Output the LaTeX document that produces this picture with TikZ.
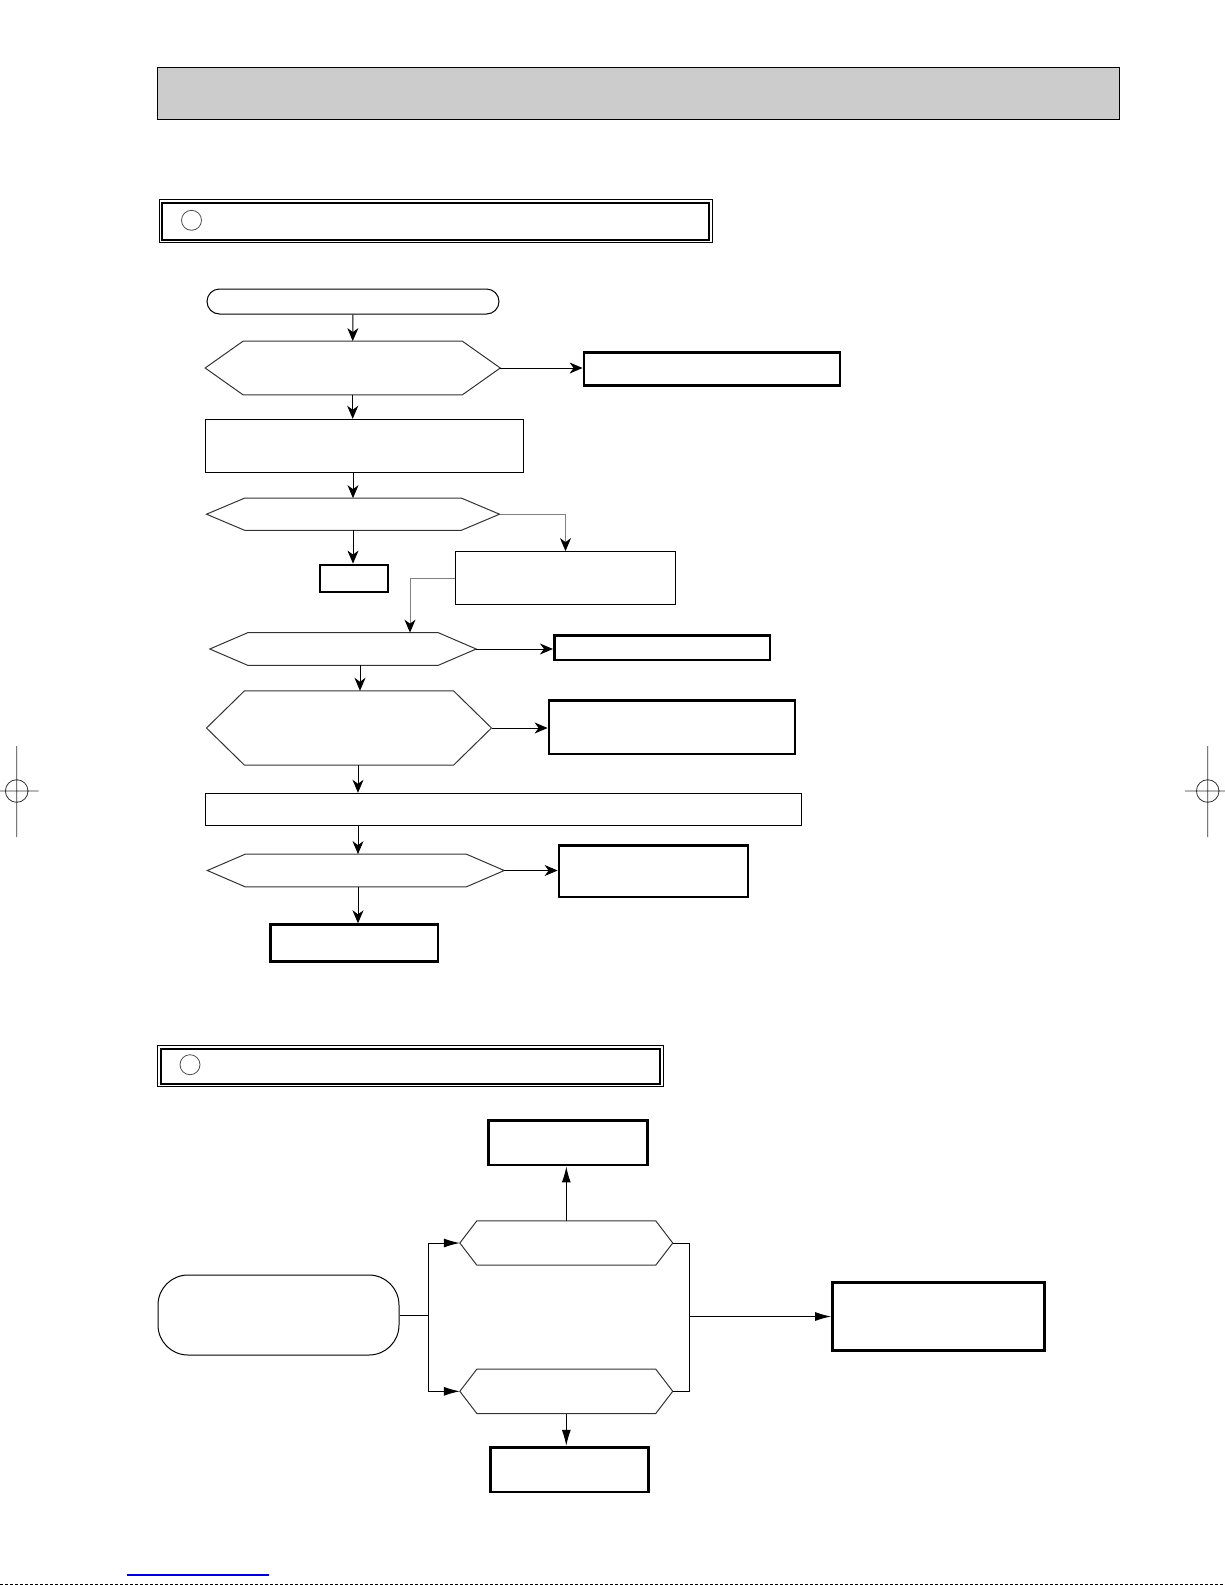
\documentclass[tikz,border=0pt]{standalone}
\usepackage{tikz}
\usetikzlibrary{calc, arrows.meta}

% hexagon outline round a (borderless) node: name, depth of the points
\newcommand{\hexframe}[2]{%
  \draw[hexline] (#1.west) -- ($(#1.north west)+(#2,0)$) -- ($(#1.north east)-(#2,0)$) -- (#1.east)
    -- ($(#1.south east)-(#2,0)$) -- ($(#1.south west)+(#2,0)$) -- cycle;}

\begin{document}
\begin{tikzpicture}[x=1pt, y=-1pt,
    box/.style={draw, line width=1pt, inner sep=0pt},
    thickbox/.style={draw, line width=2.8pt, inner sep=0pt},
    hexnode/.style={inner sep=0pt},
    hexline/.style={draw=black!80, line width=1pt},
    arr/.style={-{Stealth[length=13pt, width=11pt, inset=4pt, color=black]}, line width=1pt},
    garr/.style={arr, draw=black!50},
    arrb/.style={-{Latex[length=16pt, width=9pt]}, line width=1pt}]
    \useasboundingbox (0,0) rectangle (1225,1585);
    \node[box, fill=black!20, minimum width=962, minimum height=52] (title) at (638,93) {}; % Header bar
    % Section 1
    \node[box, minimum width=553, minimum height=42.7] (sec1) at (435.5,221.3) {};
    \draw[line width=2pt] ($(sec1.north west)+(3.5,4)$) rectangle ($(sec1.south east)-(3.5,3.5)$);
    \node[circle, draw=black!70, line width=0.8pt, minimum size=20, inner sep=0pt] (num1) at (191.5,220.3) {};
    \node[box, rounded corners=12.5, minimum width=292, minimum height=25] (start) at (353,301.5) {}; % Start
    \node[hexnode, minimum width=294.7, minimum height=53.4] (hexA) at (352.7,368) {};
    \hexframe{hexA}{38}
    \node[thickbox, minimum width=256, minimum height=32.6] (boxA) at (712,369) {};
    \node[box, minimum width=318, minimum height=53] (procA) at (364.3,445.8) {};
    \node[hexnode, minimum width=292.6, minimum height=31.7] (hexB) at (353,514.2) {};
    \hexframe{hexB}{38}
    \node[thickbox, minimum width=68, minimum height=27] (endA) at (354,578.5) {};
    \node[box, minimum width=220.4, minimum height=52.8] (procB) at (565.5,578) {};
    \node[hexnode, minimum width=266, minimum height=32.3] (hexC) at (343,649) {};
    \hexframe{hexC}{38}
    \node[thickbox, minimum width=215.7, minimum height=24.3] (boxB) at (662.2,647.9) {};
    \node[hexnode, minimum width=284.6, minimum height=74] (hexD) at (349,728) {};
    \hexframe{hexD}{38}
    \node[thickbox, minimum width=246, minimum height=53.3] (boxC) at (672,727.4) {};
    \node[box, minimum width=596.5, minimum height=32] (procC) at (503.3,809.3) {};
    \node[hexnode, minimum width=296.5, minimum height=32.4] (hexE) at (355.8,870.5) {};
    \hexframe{hexE}{38}
    \node[thickbox, minimum width=189, minimum height=51.3] (boxD) at (653.5,871.4) {};
    \node[thickbox, minimum width=167.7, minimum height=36.8] (boxE) at (354.2,943.1) {};
    \draw[arr] (start.south) -- (hexA.north);
    \draw[arr] (hexA.east) -- (hexA.east -| boxA.west);
    \draw[arr] (hexA.south) -- (hexA.south |- procA.north);
    \draw[arr] (hexB.north |- procA.south) -- (hexB.north);
    \draw[arr] (hexB.south) -- (hexB.south |- endA.north);
    \draw[garr] (hexB.east) -| (procB.north);
    \draw[garr] (procB.west) -| ($(hexC.north)+(67,0)$);
    \draw[arr] (hexC.east) -- (hexC.east -| boxB.west);
    \draw[arr] (360,0 |- hexC.south) -- (360,0 |- hexD.north);
    \draw[arr] (hexD.east) -- (hexD.east -| boxC.west);
    \draw[arr] (358,0 |- hexD.south) -- (358,0 |- procC.north);
    \draw[arr] (358,0 |- procC.south) -- (358,0 |- hexE.north);
    \draw[arr] (hexE.east) -- (hexE.east -| boxD.west);
    \draw[arr] (358,0 |- hexE.south) -- (358,0 |- boxE.north);
    % Section 2
    \node[box, minimum width=506.6, minimum height=41.7] (sec2) at (410.3,1065.9) {};
    \draw[line width=2pt] ($(sec2.north west)+(4,4)$) rectangle ($(sec2.south east)-(4,3.5)$);
    \node[circle, draw=black!70, line width=0.8pt, minimum size=20, inner sep=0pt] (num2) at (190,1064.7) {};
    \node[thickbox, minimum width=159, minimum height=44.7] (boxF) at (568,1142.7) {};
    \node[hexnode, minimum width=212.5, minimum height=44] (hexF) at (566.3,1243) {};
    \hexframe{hexF}{17}
    \node[hexnode, minimum width=212.5, minimum height=44] (hexG) at (566.3,1391.3) {};
    \hexframe{hexG}{17}
    \node[box, rounded corners=30, minimum width=241, minimum height=80] (term) at (278.5,1315) {}; % Source
    \node[thickbox, minimum width=212, minimum height=68] (boxG) at (938.5,1316.5) {};
    \node[thickbox, minimum width=158.5, minimum height=44.7] (boxH) at (569.5,1469.6) {};
    \draw[arrb] (hexF.north) -- (hexF.north |- boxF.south);
    \draw[arrb] (term.east) -- ++(29,0) |- (hexF.west);
    \draw[arrb] (term.east) -- ++(29,0) |- (hexG.west);
    \path (hexF.east) ++(16.5,0) coordinate (jR);
    \draw[line width=1pt] (hexF.east) -- (jR) -- (jR |- hexG.east) -- (hexG.east);
    \draw[arrb] (jR |- boxG.west) -- (boxG.west);
    \draw[arrb] (hexG.south) -- (hexG.south |- boxH.north);
    % Crop marks and page edge
    \draw[black!80, line width=0.8pt] (16.7,746) -- (16.7,837) (0,791) -- (38.7,791) (16.7,791) circle (11.3);
    \draw[black!80, line width=0.8pt] (1207.7,746) -- (1207.7,837) (1185,791) -- (1225,791) (1207.7,791) circle (11.3);
    \draw[blue!80!black, line width=1.6pt] (127,1575) -- (269,1575);
    \draw[dash pattern=on 3pt off 2pt, line width=1pt] (0,1584.5) -- (1225,1584.5);
\end{tikzpicture}
\end{document}
